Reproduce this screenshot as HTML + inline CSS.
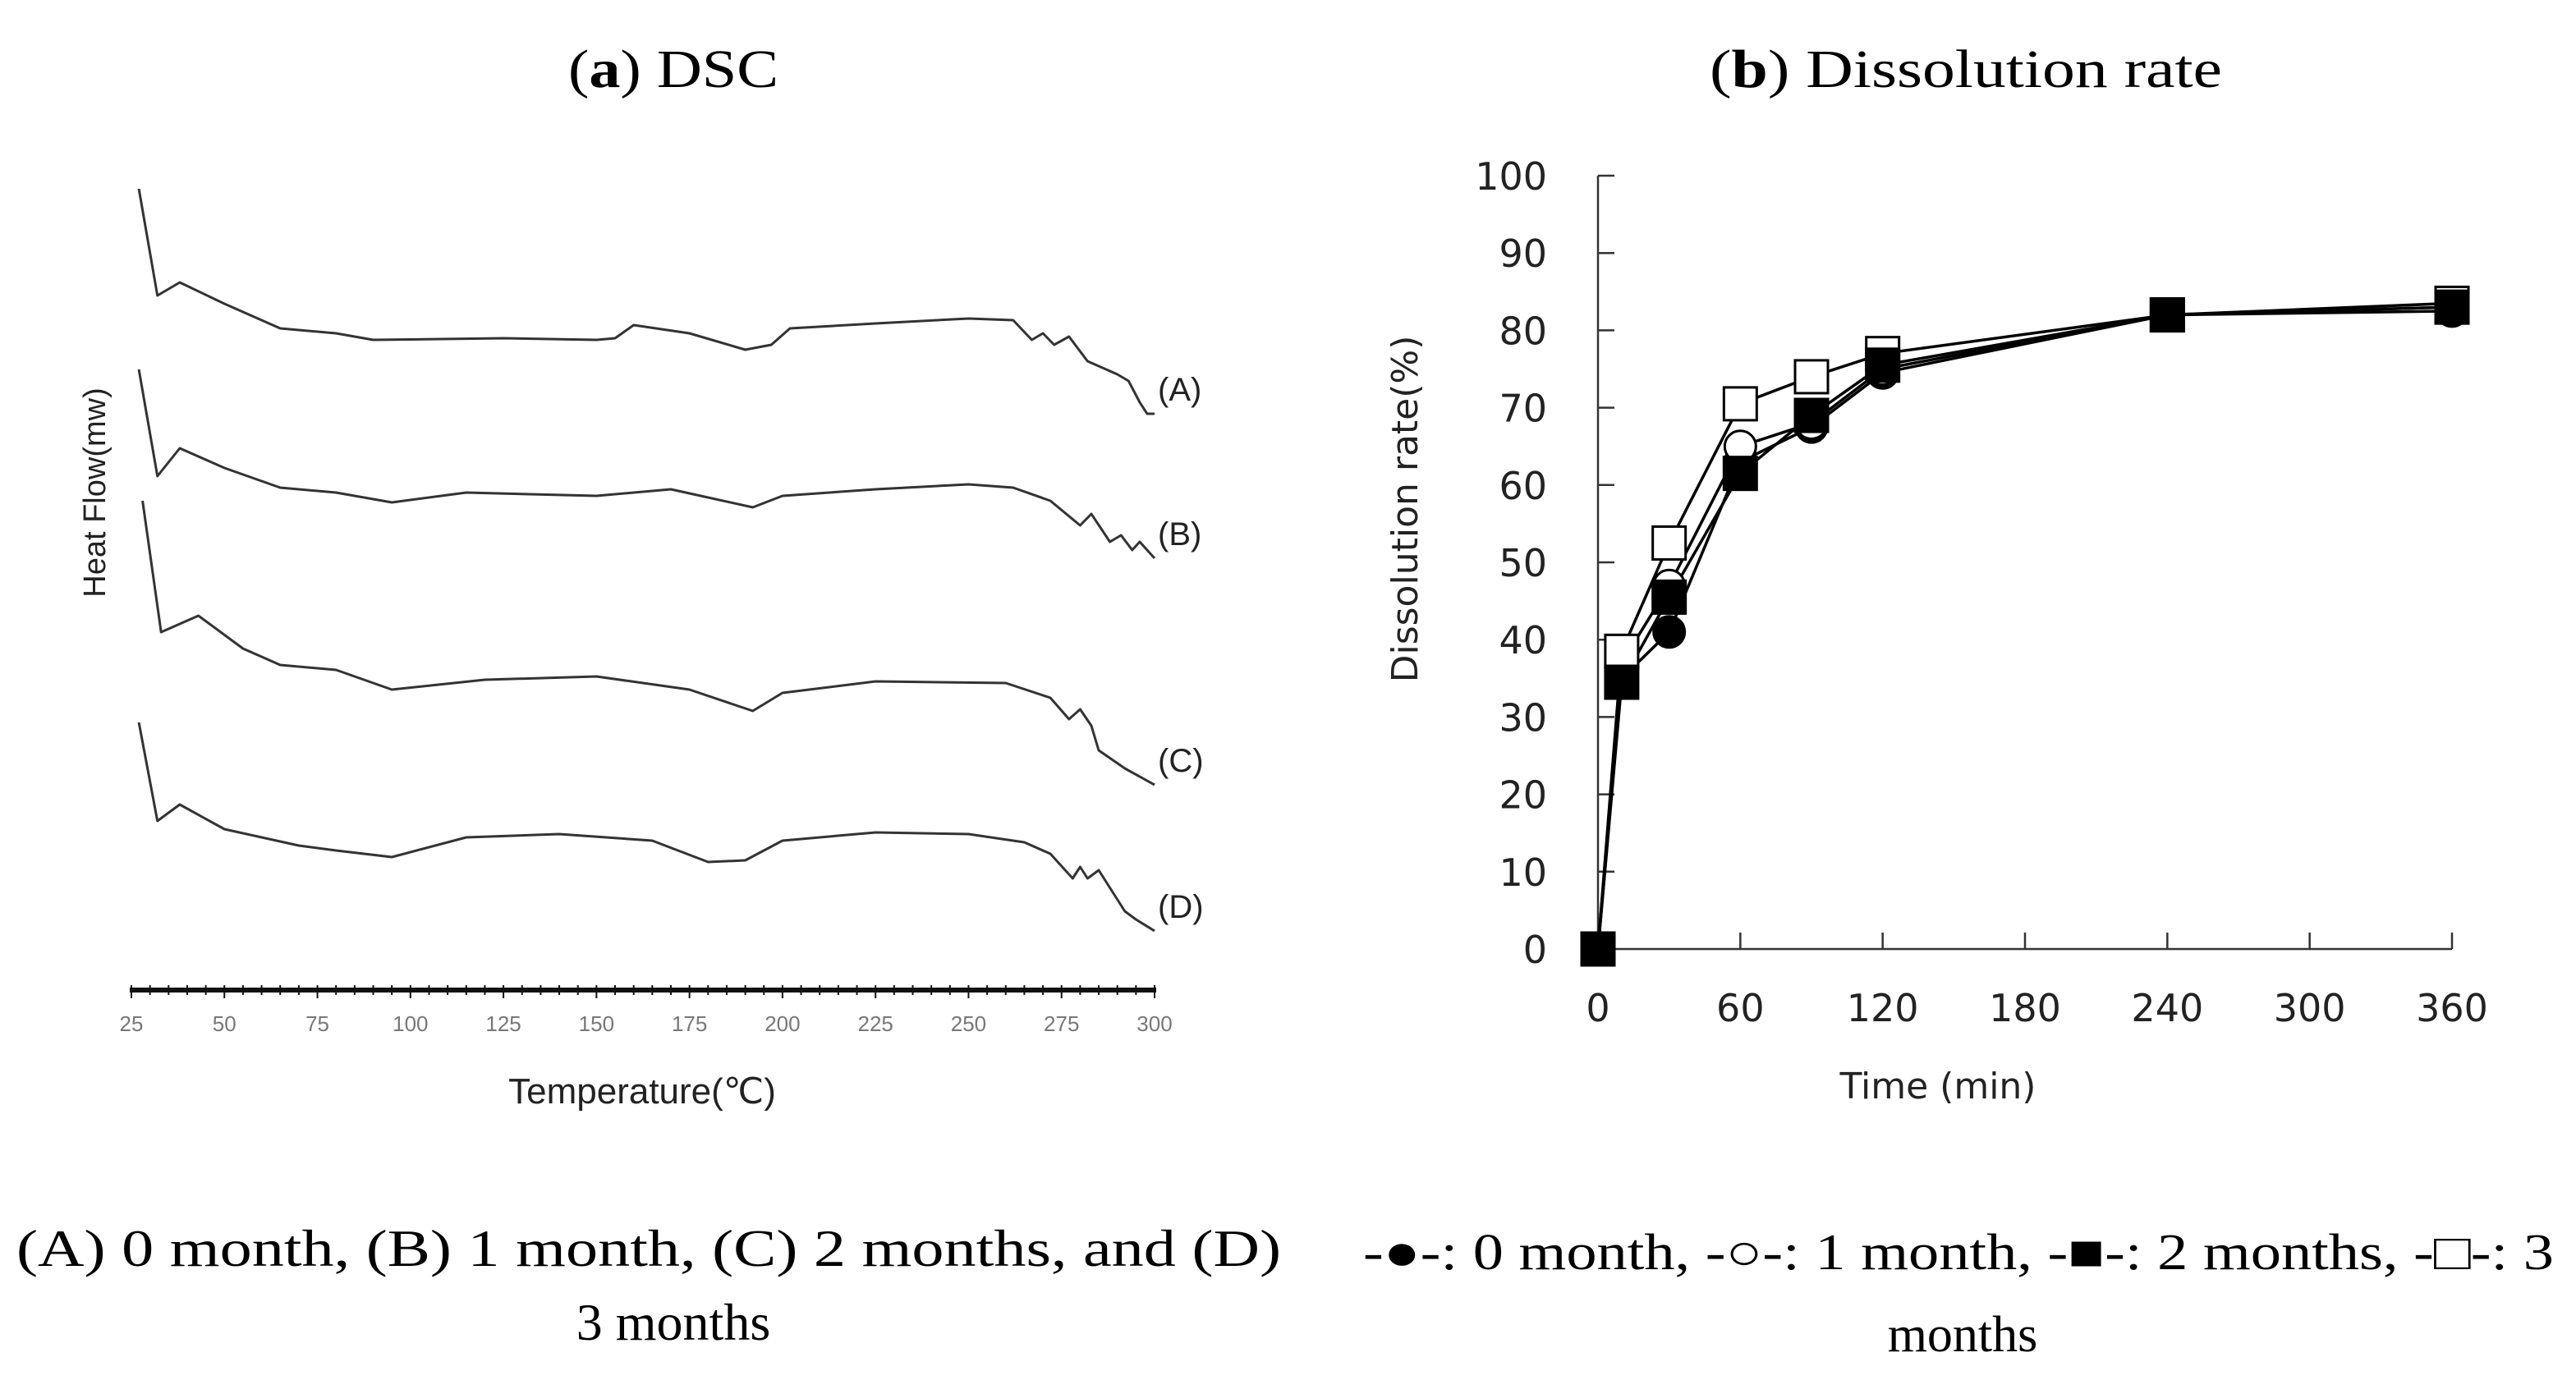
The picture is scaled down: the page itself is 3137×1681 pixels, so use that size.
<!DOCTYPE html>
<html><head><meta charset="utf-8"><style>
html,body{margin:0;padding:0;background:#fff;}
svg{display:block;}
</style></head><body>
<svg id="fig" width="3137" height="1681" viewBox="0 0 3137 1681" xmlns="http://www.w3.org/2000/svg">
<rect width="3137" height="1681" fill="#fff"/>
<text x="820" y="106" font-family="Liberation Serif, serif" font-size="66" text-anchor="middle" textLength="256" lengthAdjust="spacingAndGlyphs">(<tspan font-weight="bold">a</tspan>) DSC</text>
<text x="2394" y="106" font-family="Liberation Serif, serif" font-size="66" text-anchor="middle" textLength="624" lengthAdjust="spacingAndGlyphs">(<tspan font-weight="bold">b</tspan>) Dissolution rate</text>
<g id="dsc"></g>
<g id="diss"></g>
<text x="790" y="1542" font-family="Liberation Serif, serif" font-size="64" text-anchor="middle" textLength="1540" lengthAdjust="spacingAndGlyphs">(A) 0 month, (B) 1 month, (C) 2 months, and (D)</text>
<text x="820" y="1632" font-family="Liberation Serif, serif" font-size="64" text-anchor="middle">3 months</text>
<text x="2385" y="1546" font-family="Liberation Serif, 'DejaVu Sans', serif" font-size="62" text-anchor="middle" textLength="1450" lengthAdjust="spacingAndGlyphs">-●-: 0 month, -○-: 1 month, -■-: 2 months, -□-: 3</text>
<text x="2390" y="1646" font-family="Liberation Serif, serif" font-size="62" text-anchor="middle">months</text>
</svg>
<script>
// ---------- DSC data (temperature °C, relative heat flow, arbitrary units) ----------
const dscTemps = {
  A:[27,32,38,50,65,80,90,125,150,155,160,175,190,197,202,225,250,262,267,270,273,277,282,287,290,293,296,298,300],
  B:[27,32,38,50,65,80,95,115,150,170,180,192,200,225,250,262,272,280,283,288,291,294,296,300],
  C:[28,33,43,55,65,80,95,120,150,175,192,200,225,260,272,277,280,283,285,292,300],
  D:[27,32,38,50,70,80,95,115,140,165,180,190,200,225,250,265,272,278,280,282,285,292,295,300]
};
const dscFlow = {
  A:[-115,-180,-172,-185,-200,-203,-207,-206,-207,-206,-198,-203,-213,-210,-200,-197,-194,-195,-207,-203,-210,-205,-220,-225,-228,-232,-245,-252,-252],
  B:[-225,-290,-273,-285,-297,-300,-306,-300,-302,-298,-303,-309,-302,-298,-295,-297,-305,-320,-313,-330,-326,-335,-330,-340],
  C:[-305,-385,-375,-395,-405,-408,-420,-414,-412,-420,-433,-422,-415,-416,-425,-438,-432,-442,-457,-468,-478],
  D:[-440,-500,-490,-505,-515,-518,-522,-510,-508,-512,-525,-524,-512,-507,-508,-513,-520,-535,-528,-535,-530,-555,-560,-567]
};
const dscLabels = ['A','B','C','D'];
const dscTicks = [25,50,75,100,125,150,175,200,225,250,275,300];

// ---------- Dissolution data ----------
const times = [0,10,30,60,90,120,240,360];
const month0 = [0,35,41,63,67.5,74.5,82,82.5];
const month1 = [0,37,47,65,68,75,82,83];
const month2 = [0,34.5,45.5,61.5,69,75.5,82,83];
const month3 = [0,38.5,52.5,70.5,74,77,82,83.5];
const yTicks = [0,10,20,30,40,50,60,70,80,90,100];
const xTicks = [0,60,120,180,240,300,360];

const NS='http://www.w3.org/2000/svg';
function mk(tag, attrs, parent){const e=document.createElementNS(NS,tag);for(const k in attrs)e.setAttribute(k,attrs[k]);parent.appendChild(e);return e;}

// ---- DSC chart ----
const g1=document.getElementById('dsc');
const tx=t=>160+(t-25)*(1246/275);
const fy=v=>-v*2;
for(const L of dscLabels){
  const pts=dscTemps[L].map((t,i)=>tx(t).toFixed(1)+','+fy(dscFlow[L][i]).toFixed(1)).join(' ');
  const pl=mk('polyline',{points:pts,fill:'none',stroke:'#333','stroke-width':3,'stroke-linejoin':'round'},g1);
  
  
  const last=dscFlow[L][dscFlow[L].length-1];
  const lb=mk('text',{x:1410,y:fy(last)-16,'font-family':'Liberation Sans Narrow, Liberation Sans, sans-serif','font-size':40,fill:'#222'},g1);
  lb.textContent='('+L+')';
  
  
}
const ax=mk('line',{x1:158,y1:1206,x2:1408,y2:1206,stroke:'#111','stroke-width':6},g1);


for(let t=25;t<=300;t+=5){
  const tk=mk('line',{x1:tx(t),y1:1200,x2:tx(t),y2:(t%25===0)?1216:1212,stroke:'#111','stroke-width':2},g1);
  
  
}
for(const t of dscTicks){
  const e=mk('text',{x:tx(t),y:1256,'font-family':'Liberation Sans Narrow, Liberation Sans, sans-serif','font-size':26,fill:'#777','text-anchor':'middle'},g1);
  e.textContent=t;
  
  
}
const xt=mk('text',{x:782,y:1344,'font-family':'Liberation Sans Narrow, Liberation Sans, sans-serif','font-size':44,fill:'#222','text-anchor':'middle'},g1);
xt.textContent='Temperature(℃)';


const yt=mk('text',{x:0,y:0,transform:'translate(128,600) rotate(-90)','font-family':'Liberation Sans, sans-serif','font-size':38,fill:'#222','text-anchor':'middle'},g1);
yt.textContent='Heat Flow(mw)';



// ---- Dissolution chart ----
const g2=document.getElementById('diss');
const X=t=>1946+t*(1040/360);
const Y=v=>1156-v*(942/100);
const yl=mk('line',{x1:1946,y1:Y(100),x2:1946,y2:Y(0),stroke:'#333','stroke-width':2.5},g2);


const xl=mk('line',{x1:1946,y1:Y(0),x2:X(360),y2:Y(0),stroke:'#333','stroke-width':2.5},g2);


for(const v of yTicks){
  const tk=mk('line',{x1:1946,y1:Y(v),x2:1966,y2:Y(v),stroke:'#333','stroke-width':2.5},g2);
  
  
  const e=mk('text',{x:1884,y:Y(v)+17,'font-family':'DejaVu Sans, sans-serif','font-size':46,fill:'#222','text-anchor':'end'},g2);
  e.textContent=v;
  
  
}
for(const t of xTicks){
  const tk=mk('line',{x1:X(t),y1:Y(0),x2:X(t),y2:Y(0)-20,stroke:'#333','stroke-width':2.5},g2);
  
  
  const e=mk('text',{x:X(t),y:1244,'font-family':'DejaVu Sans, sans-serif','font-size':46,fill:'#222','text-anchor':'middle'},g2);
  e.textContent=t;
  
  
}
const xt2=mk('text',{x:2360,y:1338,'font-family':'DejaVu Sans, sans-serif','font-size':44,fill:'#222','text-anchor':'middle'},g2);
xt2.textContent='Time (min)';


const yt2=mk('text',{x:0,y:0,transform:'translate(1726,620) rotate(-90)','font-family':'DejaVu Sans, sans-serif','font-size':44,fill:'#222','text-anchor':'middle'},g2);
yt2.textContent='Dissolution rate(%)';



const series=[
  {name:'0-month',vals:month0,shape:'circle',fill:'#000'},
  {name:'1-month',vals:month1,shape:'circle',fill:'#fff'},
  {name:'3-months',vals:month3,shape:'square',fill:'#fff'},
  {name:'2-months',vals:month2,shape:'square',fill:'#000'}
];
for(const s of series){
  const pts=times.map((t,i)=>X(t).toFixed(1)+','+Y(s.vals[i]).toFixed(1)).join(' ');
  const pl=mk('polyline',{points:pts,fill:'none',stroke:'#000','stroke-width':3.5},g2);
  
  
}
for(const s of series){
  times.forEach((t,i)=>{
    let m;
    if(s.shape==='circle') m=mk('circle',{cx:X(t),cy:Y(s.vals[i]),r:19,fill:s.fill,stroke:'#000','stroke-width':3},g2);
    else m=mk('rect',{x:X(t)-20,y:Y(s.vals[i])-20,width:40,height:40,fill:s.fill,stroke:'#000','stroke-width':3},g2);
    
    
  });
}
</script>
</body></html>
